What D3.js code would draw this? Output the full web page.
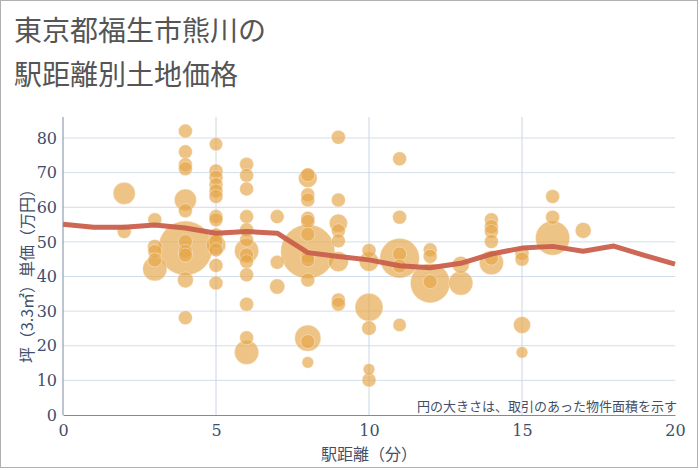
<!DOCTYPE html>
<html><head><meta charset="utf-8">
<script src="https://cdn.jsdelivr.net/npm/d3@7"></script>
<style>body{margin:0;background:#fff}svg{display:block}</style>
</head><body><svg id="c" width="700" height="470"></svg>
<script>
const titleLines = ["東京都福生市熊川の", "駅距離別土地価格"];
const xTicks = [0, 5, 10, 15, 20];
const yTicks = [0, 10, 20, 30, 40, 50, 60, 70, 80];
// trend line (average by minute)
const trendX = [0,1,2,3,4,5,6,7,8,9,10,11,12,13,14,15,16,17,18,19,20];
const trendY = [55.1,54.2,54.2,54.9,54.0,52.5,53.0,52.5,46.9,45.8,44.8,43.1,42.5,43.8,46.5,48.2,48.7,47.3,48.8,46.1,43.6];
// bubbles: distance (min), unit price (万円/坪), area (m²)
const bubbleX = [2,2, 3,3,3,3,3,
 4,4,4,4,4,4,4,4,4,4,4,4,
 5,5,5,5,5,5,5,5,5,5,5,5,5,5,
 6,6,6,6,6,6,6,6,6,6,6,6,6,
 7,7,7,
 8,8,8,8,8,8,8,8,8,8,8,8,8,8,
 9,9,9,9,9,9,9,9,
 10,10,10,10,10,10,
 11,11,11,11,11,11,
 12,12,12,12,
 13,13,
 14,14,14,14,14,14,
 15,15,15,15,
 16,16,16,
 17];
const bubbleY = [64,53, 56.4,48.6,47.2,44.8,42.2,
 82,76,72.3,71.1,62.1,59,50.1,48.2,47.2,46.2,39,28.1,
 78.2,70.5,68.6,66.5,64.7,63.1,57.3,56.4,52,50.1,49.1,47.7,43.2,38.1,
 72.4,69.2,65.3,57.3,53.5,50.6,47.4,46.2,44.3,40.5,32,22.3,18.1,
 57.3,44.1,37.1,
 69.4,68.4,63.6,62.1,56.8,55.9,52.2,47.2,45.8,44.8,39,22.2,21.2,15.2,
 80.2,62.1,55.4,53.2,50.3,44.3,33.2,32,
 47.5,44.3,31.1,25.1,13.2,10.1,
 74,57.1,46.5,45.3,43,26,
 47.7,45.8,38.1,38.5,
 43.4,38.1,
 56.4,54.4,53,50.1,45.3,44,
 46.7,45,26,18.1,
 63.1,57.1,51.1,
 53.3];
const bubbleArea = [250,100, 100,110,100,100,300,
 100,100,100,100,250,100,100,1500,100,100,130,100,
 90,100,100,100,100,100,100,100,100,100,200,100,100,100,
 100,100,100,100,100,100,300,100,100,100,100,100,300,
 100,100,120,
 100,180,100,100,100,100,100,1500,100,100,100,350,100,70,
 100,100,170,100,100,210,100,100,
 100,200,400,110,70,100,
 100,100,100,800,100,90,
 100,100,800,100,
 150,300,
 100,100,100,100,100,300,
 100,100,150,70,
 100,100,600,
 130];
const note = "円の大きさは、取引のあった物件面積を示す";
const xLabel = "駅距離（分）";
const yLabel = "坪（3.3㎡）単価（万円）";

const svg = d3.select("#c");
const m = {l: 63, r: 675, t: 117, b: 415};
svg.append("rect").attr("x",0.5).attr("y",0.5).attr("width",697).attr("height",467)
  .attr("fill","#fff").attr("stroke","#b0b0b0");

const x = d3.scaleLinear().domain([0,20]).range([m.l, m.r]);
const y = d3.scaleLinear().domain([0,80]).range([m.b, 138]);
const r = d3.scaleSqrt().domain([0,100]).range([0,7]);

const font = "'Noto Sans CJK JP', sans-serif";
const tickColor = "#3f4f6b";

// title
svg.selectAll("text.title").data(titleLines).join("text")
  .attr("x", 14).attr("y", (d,i)=> 41 + i*44)
  .attr("font-family", font).attr("font-size", 28).attr("fill", "#555")
  .text(d=>d);

// grid
const gy = svg.append("g");
gy.selectAll("line").data(yTicks.filter(d=>d>0)).join("line")
  .attr("x1", m.l).attr("x2", m.r).attr("y1", d=>y(d)).attr("y2", d=>y(d))
  .attr("stroke", d=> d===60 ? "#e6d2dc" : "#d3deec").attr("stroke-width", 1);
gy.selectAll("line.v").data(xTicks.filter(d=>d>0 && d<20)).join("line").attr("class","v")
  .attr("y1", m.t).attr("y2", m.b).attr("x1", d=>x(d)).attr("x2", d=>x(d))
  .attr("stroke", "#cbd6e6").attr("stroke-width", 1);

// bubbles
const bubbles = bubbleX.map((d,i)=>({x:d, y:bubbleY[i], a:bubbleArea[i]}))
  .sort((a,b)=>b.a-a.a);
svg.append("g").selectAll("circle").data(bubbles).join("circle")
  .attr("cx", d=>x(d.x)).attr("cy", d=>y(d.y)).attr("r", d=>r(d.a))
  .attr("fill", "rgb(229,166,72)").attr("fill-opacity", 0.66)
  .attr("stroke", "rgba(255,255,255,0.35)").attr("stroke-width", 1);

// trend line
svg.append("path").datum(trendX.map((d,i)=>[d, trendY[i]]))
  .attr("d", d3.line().x(d=>x(d[0])).y(d=>y(d[1])))
  .attr("fill","none").attr("stroke","#c9604c").attr("stroke-width",5)
  .attr("stroke-linejoin","round").attr("stroke-opacity",0.95);

// axes
const xAxis = d3.axisBottom(x).tickValues(xTicks).tickSize(0).tickPadding(10);
const gx = svg.append("g").attr("transform", `translate(0,${m.b})`).call(xAxis);
gx.select(".domain").attr("stroke", "#7c8ba3");
gx.selectAll("text").attr("font-family", "'DejaVu Serif', serif").attr("font-size", 16).attr("fill", tickColor);

const yAxis = d3.axisLeft(y).tickValues(yTicks).tickSize(0).tickPadding(6);
const gyA = svg.append("g").attr("transform", `translate(${m.l},0)`).call(yAxis);
gyA.select(".domain").attr("stroke", "#7c8ba3").attr("d", `M0,${m.t}V${m.b}`);
gyA.selectAll("text").attr("font-family", "'DejaVu Serif', serif").attr("font-size", 16).attr("fill", tickColor);

// labels
svg.append("text").attr("x", (m.l+m.r)/2).attr("y", 460).attr("text-anchor","middle")
  .attr("font-family", font).attr("font-size", 16).attr("fill", tickColor).text(xLabel);
svg.append("text").attr("transform", `translate(33,${(m.t+m.b)/2+6}) rotate(-90)`).attr("text-anchor","middle")
  .attr("font-family", font).attr("font-size", 16).attr("fill", tickColor).text(yLabel);
svg.append("text").attr("x", m.r+2).attr("y", 411).attr("text-anchor","end")
  .attr("font-family", font).attr("font-size", 13).attr("fill", tickColor).text(note);
</script></body></html>
